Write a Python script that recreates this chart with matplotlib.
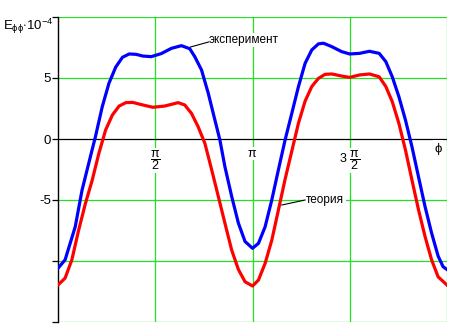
import numpy as np
import matplotlib
matplotlib.use("Agg")
import matplotlib.pyplot as plt

# --------------------------------------------------------------------
# Data, phi in radians, E in 1e-4
# --------------------------------------------------------------------
phi_exp = [0.0, 0.115, 0.278, 0.388, 0.496, 0.605, 0.715, 0.823, 0.933, 1.042,
           1.150, 1.260, 1.370, 1.505, 1.668, 1.831, 1.993, 2.128, 2.209, 2.318,
           2.427, 2.534, 2.615, 2.696, 2.805, 2.914, 3.021, 3.142, 3.238, 3.345,
           3.453, 3.561, 3.668, 3.776, 3.884, 3.991, 4.099, 4.207, 4.288, 4.422,
           4.583, 4.712, 4.871, 5.030, 5.188, 5.295, 5.399, 5.506, 5.612, 5.717,
           5.823, 5.929, 6.034, 6.140, 6.220, 6.283]
e_exp = [-10.6, -9.9, -7.2, -4.2, -2.0, 0.2, 2.65, 4.57, 5.9, 6.7,
         6.97, 6.94, 6.8, 6.75, 7.0, 7.43, 7.65, 7.4, 6.75, 5.66,
         3.75, 1.56, -0.08, -2.27, -4.7, -6.9, -8.4, -8.96, -8.55, -7.2,
         -5.0, -2.5, -0.08, 2.1, 4.3, 6.2, 7.3, 7.8, 7.85, 7.57,
         7.16, 6.97, 7.02, 7.19, 7.02, 6.34, 5.1, 3.47, 1.56, -0.63,
         -3.1, -5.55, -7.7, -9.6, -10.47, -10.7]

phi_th = [0.0, 0.115, 0.224, 0.332, 0.442, 0.551, 0.659, 0.769, 0.879, 0.987,
          1.096, 1.206, 1.370, 1.533, 1.722, 1.940, 2.047, 2.156, 2.264, 2.372,
          2.481, 2.589, 2.696, 2.805, 2.914, 3.021, 3.142, 3.238, 3.345, 3.453,
          3.561, 3.668, 3.776, 3.884, 3.991, 4.099, 4.207, 4.314, 4.422, 4.583,
          4.712, 4.871, 5.030, 5.188, 5.295, 5.399, 5.506, 5.612, 5.717, 5.823,
          5.929, 6.034, 6.140, 6.283]
e_th = [-11.97, -11.4, -9.9, -7.5, -5.3, -3.4, -1.2, 0.74, 1.97, 2.7,
        2.98, 3.0, 2.79, 2.6, 2.7, 2.98, 2.79, 2.1, 1.0, -0.35,
        -2.5, -4.7, -6.9, -9.1, -10.7, -11.7, -12.05, -11.56, -10.2, -8.3,
        -5.8, -3.3, -1.0, 1.3, 3.1, 4.3, 4.97, 5.3, 5.33, 5.16,
        5.05, 5.25, 5.33, 5.1, 4.3, 3.06, 1.28, -0.9, -3.36, -5.8,
        -8.0, -9.9, -11.3, -11.97]

x_grid = [np.pi / 2, np.pi, 3 * np.pi / 2, 2 * np.pi]
y_ticks = [-15, -10, -5, 0, 5, 10]
y_labels = ["", "", "-5", "0", "5", ""]

GREEN = "#22e022"
FONT = "Liberation Sans"

plt.rcParams["font.family"] = FONT
plt.rcParams["mathtext.fontset"] = "custom"
plt.rcParams["mathtext.rm"] = FONT
plt.rcParams["mathtext.it"] = FONT
plt.rcParams["mathtext.sf"] = FONT

fig = plt.figure(figsize=(4.59, 3.36), dpi=100)
ax = fig.add_axes([58 / 459, 1 - 322 / 336, 389 / 459, 305 / 336])

ax.set_xlim(0, 2 * np.pi)
ax.set_ylim(-15, 10)

# grid
for xv in x_grid:
    ax.axvline(xv, color=GREEN, lw=0.9, zorder=1)
for yv in y_ticks:
    if yv != 0:
        ax.axhline(yv, color=GREEN, lw=0.9, zorder=1)
ax.axhline(0, color="black", lw=0.9, zorder=2)

for s in ["top", "right", "bottom"]:
    ax.spines[s].set_visible(False)
ax.spines["left"].set_color("black")
ax.spines["left"].set_linewidth(1.0)
ax.spines["left"].set_zorder(3)

ax.set_xticks([])
ax.set_yticks(y_ticks)
ax.set_yticklabels(y_labels, fontsize=9.5)
ax.tick_params(axis="y", direction="out", length=4, width=0.9, pad=1)

# curves
ax.plot(phi_exp, e_exp, color="#0000ff", lw=2.3, zorder=4, solid_joinstyle="round")
ax.plot(phi_th, e_th, color="#ff0000", lw=2.3, zorder=4, solid_joinstyle="round")

# x labels on the zero line
box = dict(facecolor="white", edgecolor="none", pad=0.5)
ax.text(np.pi / 2, -1.75, r"$\dfrac{\pi}{2}$", ha="center", va="center",
        fontsize=9, bbox=box, zorder=3)
ax.text(np.pi, -1.2, r"$\pi$", ha="center", va="center",
        fontsize=9, bbox=box, zorder=3)
ax.text(3 * np.pi / 2, -1.75, r"3 $\dfrac{\pi}{2}$", ha="center", va="center",
        fontsize=9, bbox=box, zorder=3)
ax.text(6.14, -0.8, r"$\phi$", ha="center", va="center",
        fontsize=9.5, bbox=box, zorder=3)

# annotations
ax.plot([2.139, 2.432], [7.54, 7.95], color="black", lw=0.8, zorder=5)
ax.text(2.44, 8.1, "эксперимент", ha="left", va="center", fontsize=8.5,
        bbox=box, zorder=3)
ax.plot([3.615, 3.991], [-5.41, -5.0], color="black", lw=0.8, zorder=5)
ax.text(4.01, -5.0, "теория", ha="left", va="center", fontsize=8.5,
        bbox=dict(facecolor="white", edgecolor="none", pad=1.5), zorder=3)

# y axis title
fig.text(3 / 459, 1 - 30 / 336, r"E$_{\phi\phi}$$\cdot$10$^{-4}$",
         ha="left", va="baseline", fontsize=9.5)

fig.savefig("out.png", dpi=100)
